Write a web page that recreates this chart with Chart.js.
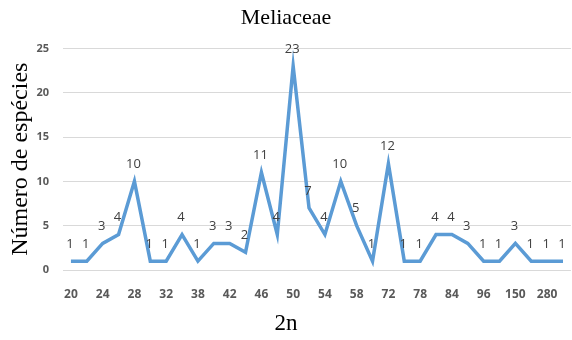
<!DOCTYPE html>
<html>
<head>
<meta charset="utf-8">
<script src="https://cdn.jsdelivr.net/npm/chart.js@4"></script>
<style>
  body { margin: 0; background: #fff; }
  #wrap { width: 572px; height: 340px; }
</style>
</head>
<body>
<div id="wrap"><canvas id="chart" width="572" height="340"></canvas></div>
<script>
// 2n chromosome numbers (only every other one is printed on the axis)
const chromosomes = ["20", "22", "24", "26", "28", "30", "32", "36", "38", "40", "42", "44", "46", "48", "50", "52",
                     "54", "56", "58", "64", "72", "76", "78", "80", "84", "90", "96", "100", "150", "200", "280", "300"];
// number of species per chromosome number
const species = [1, 1, 3, 4, 10, 1, 1, 4, 1, 3, 3, 2, 11, 4, 23, 7,
                 4, 10, 5, 1, 12, 1, 1, 4, 4, 3, 1, 1, 3, 1, 1, 1];
const yTicks = [0, 5, 10, 15, 20, 25];

const pointLabels = {
    id: "pointLabels",
    afterDatasetsDraw(chart) {
        const ctx = chart.ctx;
        const meta = chart.getDatasetMeta(0);
        ctx.save();
        ctx.font = "13px 'Open Sans', sans-serif";
        ctx.fillStyle = "#404040";
        ctx.textAlign = "center";
        ctx.textBaseline = "middle";
        meta.data.forEach((pt, i) => {
            ctx.fillText(String(species[i]), pt.x - 1, pt.y - 17);
        });
        ctx.restore();
    }
};

new Chart(document.getElementById("chart"), {
    type: "line",
    data: {
        labels: chromosomes,
        datasets: [{
            data: species,
            borderColor: "#5b9bd5",
            borderWidth: 3.5,
            pointRadius: 0,
            tension: 0,
            fill: false
        }]
    },
    options: {
        responsive: false,
        animation: false,
        layout: { padding: 0 },
        plugins: {
            legend: { display: false },
            tooltip: { enabled: false },
            title: {
                display: true,
                text: "Meliaceae",
                color: "#000",
                font: { family: "'Liberation Serif', serif", size: 22, weight: "normal" },
                padding: { top: 5, bottom: 17 }
            },
            subtitle: {
                display: true,
                position: "bottom",
                text: "2n",
                color: "#000",
                font: { family: "'Liberation Serif', serif", size: 23, weight: "normal" },
                padding: { top: 0, bottom: 2 }
            }
        },
        scales: {
            x: {
                offset: true,
                grid: { display: false },
                border: { display: false },
                ticks: {
                    autoSkip: false,
                    maxRotation: 0,
                    padding: 9,
                    color: "#595959",
                    font: { family: "'Open Sans', sans-serif", size: 12, weight: "bold" },
                    callback: (v, i) => (i % 2 === 0 ? chromosomes[i] : "")
                },
                afterFit: s => { s.height = 40.4; }
            },
            y: {
                min: 0,
                max: 25,
                afterBuildTicks: s => { s.ticks = yTicks.map(v => ({ value: v })); },
                grid: { color: "#d9d9d9", lineWidth: 1, drawTicks: false },
                border: { display: false },
                ticks: {
                    padding: 14,
                    color: "#595959",
                    font: { family: "'Open Sans', sans-serif", size: 11, weight: "bold" }
                },
                title: {
                    display: true,
                    text: "Número de espécies",
                    color: "#000",
                    font: { family: "'Liberation Serif', serif", size: 24 },
                    padding: { top: 6, bottom: 0 }
                },
                afterFit: s => { s.width = 63; }
            }
        }
    },
    plugins: [pointLabels]
});
</script>
</body>
</html>
